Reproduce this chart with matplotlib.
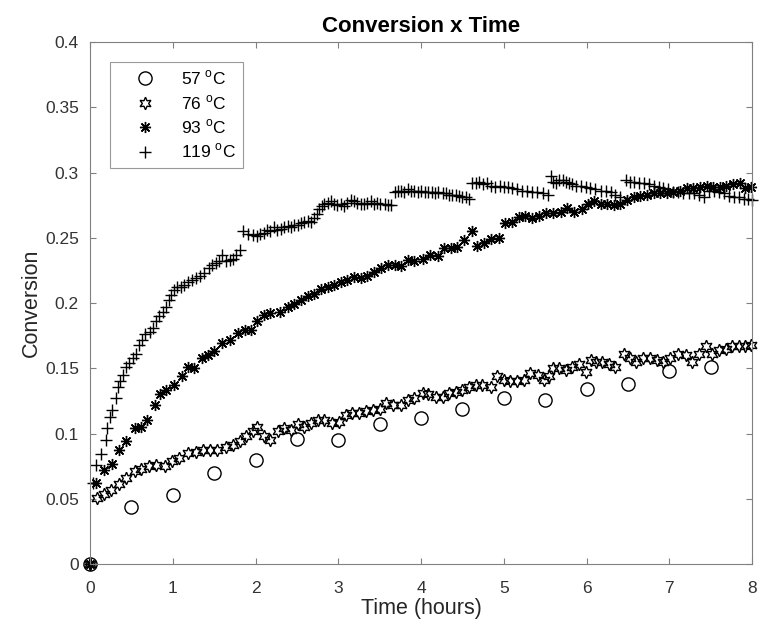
import numpy as np
import matplotlib
matplotlib.use("Agg")
import matplotlib.pyplot as plt
from matplotlib.ticker import FormatStrFormatter

plt.rcParams['font.family'] = ['Liberation Sans', 'DejaVu Sans']
plt.rcParams['mathtext.fontset'] = 'custom'
plt.rcParams['mathtext.rm'] = 'Liberation Sans'

# 57 C - one sample every half hour
t57 = [0, 0.5, 1.0, 1.5, 2.0, 2.5, 3.0, 3.5, 4.0, 4.5, 5.0, 5.5, 6.0, 6.5, 7.0, 7.5]
v57 = [0, .044, .053, .070, .080, .096, .095, .107, .112, .119, .127, .126, .134, .138, .148, .151]

# 76 C
t76 = [0, 0.09, 0.17, 0.25, 0.35, 0.44, 0.54, 0.62, 0.71, 0.80,
       0.90, 0.99, 1.08, 1.18, 1.28, 1.36, 1.45, 1.54, 1.64, 1.73,
       1.81, 1.89, 1.97, 2.02, 2.10, 2.18, 2.27, 2.35, 2.43, 2.51,
       2.59, 2.67, 2.75, 2.83, 2.93, 3.01, 3.09, 3.17, 3.25, 3.33,
       3.42, 3.50, 3.58, 3.66, 3.76, 3.84, 3.92, 4.02, 4.09, 4.18,
       4.26, 4.34, 4.42, 4.50, 4.58, 4.66, 4.74, 4.84, 4.92, 5.00,
       5.08, 5.16, 5.24, 5.32, 5.41, 5.49, 5.55, 5.59, 5.67, 5.75,
       5.83, 5.91, 5.99, 6.06, 6.11, 6.19, 6.27, 6.35, 6.45, 6.53,
       6.60, 6.68, 6.77, 6.85, 6.93, 7.01, 7.10, 7.20, 7.28, 7.36,
       7.44, 7.52, 7.60, 7.68, 7.76, 7.84, 7.92, 7.99]
v76 = [0, .0505, .054, .057, .061, .066, .071, .073, .075, .076,
       .075, .079, .081, .085, .086, .087, .087, .087, .090, .091,
       .094, .098, .102, .105, .098, .095, .102, .104, .103, .107,
       .105, .108, .110, .110, .108, .109, .114, .116, .116, .117,
       .118, .119, .123, .122, .122, .126, .127, .131, .130, .128,
       .128, .131, .132, .133, .136, .137, .137, .136, .144, .141,
       .140, .140, .141, .146, .145, .141, .144, .150, .150, .149,
       .151, .153, .147, .156, .155, .155, .153, .151, .161, .158,
       .155, .158, .158, .156, .155, .158, .161, .160, .155, .161,
       .167, .161, .164, .165, .167, .167, .167, .168]

# 93 C
t93 = [0, 0.07, 0.17, 0.27, 0.35, 0.44, 0.54, 0.61, 0.69, 0.78,
       0.85, 0.92, 1.01, 1.11, 1.18, 1.26, 1.35, 1.42, 1.50, 1.60,
       1.69, 1.79, 1.87, 1.94, 2.02, 2.10, 2.18, 2.29, 2.39, 2.47,
       2.55, 2.63, 2.71, 2.79, 2.87, 2.95, 3.03, 3.11, 3.19, 3.27,
       3.35, 3.43, 3.52, 3.60, 3.68, 3.76, 3.84, 3.92, 4.02, 4.11,
       4.20, 4.28, 4.36, 4.44, 4.52, 4.61, 4.68, 4.76, 4.85, 4.94,
       5.02, 5.10, 5.18, 5.26, 5.34, 5.43, 5.51, 5.59, 5.69, 5.77,
       5.85, 5.94, 6.02, 6.09, 6.17, 6.25, 6.33, 6.41, 6.49, 6.57,
       6.65, 6.73, 6.81, 6.89, 6.97, 7.05, 7.13, 7.21, 7.29, 7.37,
       7.45, 7.53, 7.61, 7.69, 7.77, 7.85, 7.92, 7.99]
v93 = [0, .062, .072, .077, .087, .094, .104, .105, .110, .122,
       .130, .133, .137, .144, .151, .150, .158, .160, .163, .169,
       .172, .177, .179, .179, .186, .191, .192, .193, .197, .199,
       .202, .205, .207, .211, .212, .214, .216, .218, .220, .219,
       .221, .224, .227, .229, .229, .228, .233, .232, .234, .237,
       .236, .242, .242, .243, .248, .255, .244, .246, .249, .250,
       .261, .262, .266, .267, .265, .267, .269, .269, .270, .273,
       .270, .272, .276, .278, .276, .276, .275, .276, .279, .281,
       .282, .283, .284, .284, .284, .285, .286, .288, .288, .289,
       .290, .289, .289, .290, .291, .292, .288, .289]

# 119 C
t119 = [0, 0.03, 0.07, 0.13, 0.19, 0.21, 0.24, 0.27, 0.31, 0.34,
        0.36, 0.40, 0.43, 0.47, 0.52, 0.56, 0.59, 0.63, 0.67, 0.72,
        0.76, 0.80, 0.83, 0.88, 0.92, 0.95, 0.98, 1.01, 1.05, 1.10,
        1.14, 1.18, 1.23, 1.28, 1.33, 1.38, 1.44, 1.48, 1.52, 1.56,
        1.60, 1.64, 1.69, 1.73, 1.77, 1.81, 1.85, 1.91, 1.97, 2.02,
        2.06, 2.10, 2.14, 2.18, 2.22, 2.26, 2.31, 2.35, 2.39, 2.43,
        2.47, 2.51, 2.55, 2.59, 2.63, 2.67, 2.71, 2.74, 2.77, 2.80,
        2.83, 2.87, 2.91, 2.95, 2.99, 3.03, 3.07, 3.11, 3.15, 3.19,
        3.23, 3.27, 3.31, 3.35, 3.39, 3.43, 3.47, 3.51, 3.56, 3.60,
        3.64, 3.68, 3.72, 3.76, 3.80, 3.84, 3.88, 3.92, 3.96, 4.00,
        4.05, 4.09, 4.13, 4.17, 4.21, 4.26, 4.30, 4.34, 4.38, 4.42,
        4.46, 4.50, 4.54, 4.58, 4.62, 4.66, 4.70, 4.75, 4.80, 4.85,
        4.90, 4.95, 5.00, 5.05, 5.10, 5.16, 5.22, 5.28, 5.34, 5.40,
        5.47, 5.53, 5.57, 5.60, 5.63, 5.67, 5.71, 5.75, 5.79, 5.83,
        5.87, 5.93, 5.99, 6.04, 6.10, 6.17, 6.23, 6.29, 6.35, 6.41,
        6.48, 6.52, 6.57, 6.63, 6.69, 6.75, 6.81, 6.87, 6.93, 6.99,
        7.05, 7.11, 7.17, 7.24, 7.30, 7.36, 7.42, 7.48, 7.54, 7.60,
        7.66, 7.72, 7.78, 7.84, 7.90, 7.95, 8.00]
v119 = [0, .062, .076, .084, .095, .104, .113, .118, .127, .136,
        .140, .145, .151, .154, .158, .161, .168, .172, .176, .178,
        .181, .186, .190, .193, .197, .202, .206, .210, .212, .212,
        .214, .216, .218, .219, .221, .223, .227, .229, .231, .232,
        .237, .232, .233, .234, .237, .241, .255, .253, .252, .251,
        .253, .254, .256, .255, .258, .256, .257, .258, .259, .258,
        .260, .260, .261, .262, .263, .262, .265, .268, .272, .274,
        .276, .277, .278, .276, .275, .276, .274, .277, .279, .278,
        .277, .276, .276, .277, .278, .276, .277, .276, .276, .275,
        .275, .285, .286, .286, .285, .287, .286, .286, .285, .286,
        .285, .285, .285, .284, .285, .284, .284, .283, .283, .283,
        .282, .281, .281, .280, .292, .292, .293, .291, .292, .290,
        .289, .290, .289, .289, .288, .287, .286, .286, .285, .285,
        .284, .283, .297, .293, .292, .294, .294, .293, .292, .291,
        .290, .290, .289, .288, .287, .286, .286, .285, .283, .281,
        .294, .293, .293, .292, .292, .291, .290, .289, .288, .287,
        .285, .285, .284, .284, .284, .283, .281, .286, .286, .285,
        .284, .282, .281, .281, .280, .280, .279]

fig = plt.figure(figsize=(7.61, 6.32), dpi=100)
ax = fig.add_axes([0.1183, 0.1076, 0.8699, 0.8259])

common = dict(linestyle='none', color='black', mfc='none', mec='black', clip_on=False)
ax.plot(t57, v57, marker='o', ms=9.5, mew=1.0, label=r'57 $^{\mathrm{o}}$C', **common)
ax.plot(t76, v76, marker=(6, 1, 0), ms=9, mew=1.0, label=r'76 $^{\mathrm{o}}$C', **common)
ax.plot(t93, v93, marker=(8, 2, 0), ms=8, mew=1.0, label=r'93 $^{\mathrm{o}}$C', **common)
ax.plot(t119, v119, marker='+', ms=9, mew=1.0, label=r'119 $^{\mathrm{o}}$C', **common)

ax.set_xlim(0, 8)
ax.set_ylim(0, 0.4)
ax.set_xticks(range(9))
ax.set_yticks(np.arange(0, 0.401, 0.05))
ax.yaxis.set_major_formatter(FormatStrFormatter('%g'))

for s in ax.spines.values():
    s.set_color('#808080')
    s.set_linewidth(0.8)
ax.tick_params(direction='in', top=True, right=True, length=4.5, width=0.8,
               colors='#808080', labelcolor='#333333', labelsize=12.5)
ax.tick_params(axis='x', pad=12.5)
ax.tick_params(axis='y', pad=8)

ax.set_title('Conversion x Time', fontsize=16, fontweight='bold', pad=7)
ax.set_xlabel('Time (hours)', fontsize=15.5, color='#262626', labelpad=1)
ax.set_ylabel('Conversion', fontsize=15.5, color='#262626', labelpad=2)

leg = ax.legend(loc='upper left', bbox_to_anchor=(0.030, 0.962), borderaxespad=0,
                fontsize=12.5, frameon=True, fancybox=False, handlelength=3.2,
                handletextpad=0.5, labelspacing=0.33, borderpad=0.4)
leg.get_frame().set_edgecolor('#808080')
leg.get_frame().set_linewidth(0.8)

fig.savefig('out.png', dpi=100)
